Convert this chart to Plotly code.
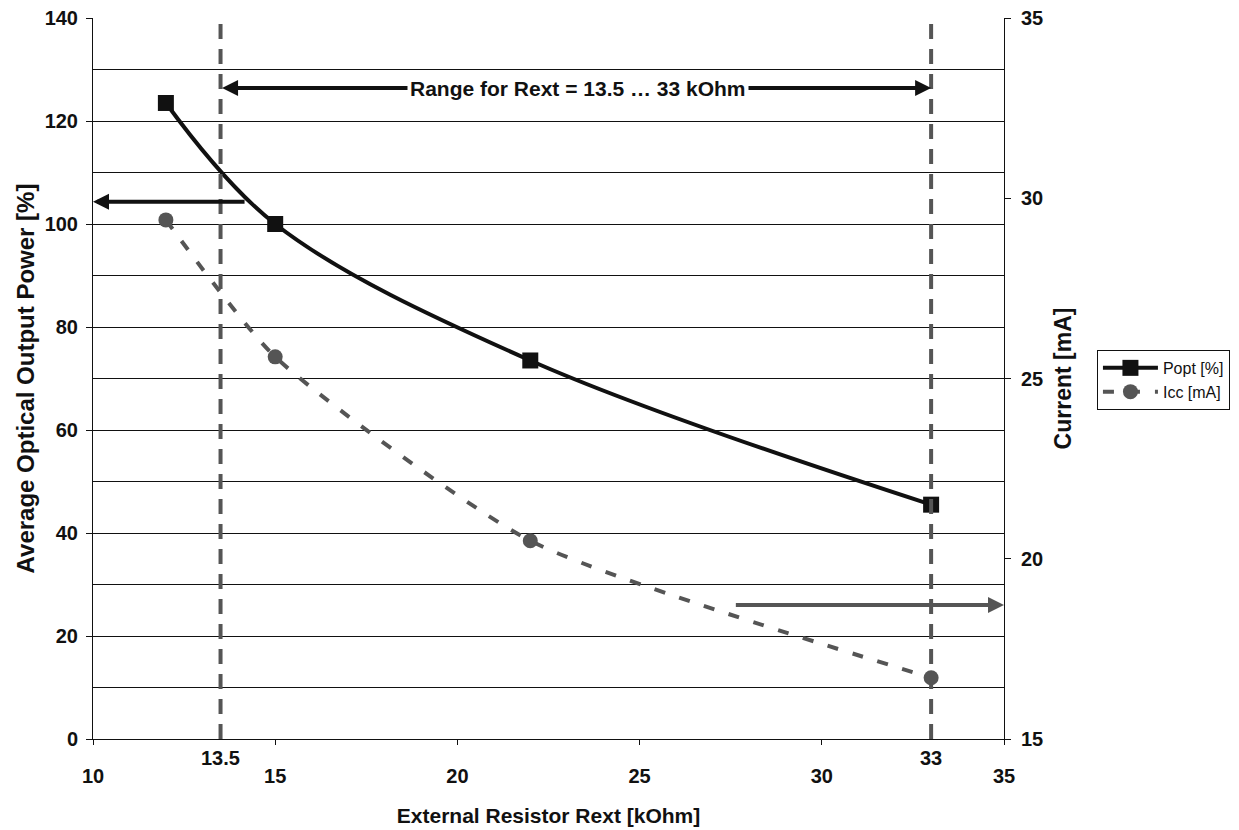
import plotly.graph_objects as go

rext = [12, 15, 22, 33]
popt = [123.5, 100, 73.5, 45.5]
icc = [29.4, 25.6, 20.5, 16.7]
range_lo = 13.5
range_hi = 33
x_ticks = [10, 15, 20, 25, 30, 35]
y_ticks = [0, 20, 40, 60, 80, 100, 120, 140]
y2_ticks = [15, 20, 25, 30, 35]

FONT = "Liberation Sans, Arial, sans-serif"
GRAY = "#555555"
INK = "#111111"
TICKFONT = dict(family=FONT, size=20, color=INK)


def bold(vals):
    return [f"<b>{v}</b>" for v in vals]


fig = go.Figure()
fig.add_trace(go.Scatter(
    x=rext, y=popt, name="Popt [%]", mode="lines+markers",
    line=dict(color=INK, width=4, shape="spline", smoothing=1.0),
    marker=dict(symbol="square", size=16, color=INK),
    yaxis="y"))
fig.add_trace(go.Scatter(
    x=rext, y=icc, name="Icc [mA]", mode="lines+markers",
    line=dict(color=GRAY, width=4, dash="11px,15px", shape="spline", smoothing=0.6),
    marker=dict(symbol="circle", size=15, color=GRAY),
    yaxis="y2"))

for xv in (range_lo, range_hi):
    fig.add_shape(type="line", xref="x", yref="paper", x0=xv, x1=xv, y0=0, y1=1,
                  line=dict(color=GRAY, width=4, dash="15px,10px"), layer="above")

# range arrow
fig.add_annotation(x=range_hi, y=126.4, ax=range_lo, ay=126.4, xref="x", yref="y",
                   axref="x", ayref="y", showarrow=True, arrowhead=2, startarrowhead=2,
                   arrowside="end+start", arrowwidth=4, arrowsize=0.8, startarrowsize=0.8,
                   arrowcolor=INK, text="")
fig.add_annotation(x=(range_lo + range_hi) / 2 + 0.05, y=126.4, xref="x", yref="y",
                   text="<b>Range for Rext = 13.5 … 33 kOhm</b>", showarrow=False,
                   bgcolor="white", borderpad=2, font=dict(family=FONT, size=21, color=INK))
# left arrow
fig.add_annotation(x=10, y=104.3, ax=14.2, ay=104.3, xref="x", yref="y",
                   axref="x", ayref="y", showarrow=True, arrowhead=2, arrowwidth=4,
                   arrowsize=0.8, arrowcolor=INK, text="")
# right arrow
fig.add_annotation(x=35, y=26, ax=27.6, ay=26, xref="x", yref="y",
                   axref="x", ayref="y", showarrow=True, arrowhead=2, arrowwidth=4,
                   arrowsize=0.8, arrowcolor=GRAY, text="")

for xv, lbl in ((range_lo, "13.5"), (range_hi, "33")):
    fig.add_annotation(x=xv, y=0, xref="x", yref="paper", yanchor="middle", yshift=-19,
                       text=f"<b>{lbl}</b>", showarrow=False, font=TICKFONT)

fig.update_layout(
    width=1231, height=822,
    margin=dict(l=85, r=235, t=10, b=91, autoexpand=False),
    plot_bgcolor="white", paper_bgcolor="white",
    font=dict(family=FONT, size=20, color=INK),
    showlegend=True,
    legend=dict(xref="container", yref="container", x=0.8846, y=0.584,
                xanchor="left", yanchor="top",
                bordercolor=INK, borderwidth=1, bgcolor="white",
                font=dict(family=FONT, size=16, color=INK),
                itemwidth=55, tracegroupgap=0),
    xaxis=dict(range=[10, 35], tickvals=x_ticks, ticktext=bold(x_ticks),
               showgrid=False, zeroline=False,
               showline=True, linecolor=INK, linewidth=1, automargin=False,
               ticks="outside", ticklen=5, tickcolor=INK, ticklabeloverflow="allow",
               tickfont=TICKFONT, ticklabelstandoff=14,
               title=dict(text="<b>External Resistor Rext [kOhm]</b>", standoff=22,
                          font=dict(family=FONT, size=21, color=INK))),
    yaxis=dict(range=[0, 140], tickvals=y_ticks, ticktext=bold(y_ticks),
               showgrid=True, gridcolor=INK, gridwidth=1,
               minor=dict(dtick=10, showgrid=True, gridcolor=INK, gridwidth=1),
               zeroline=False, showline=True, linecolor=INK, linewidth=1,
               automargin=False, ticklabeloverflow="allow",
               ticks="outside", ticklen=6, tickcolor=INK,
               tickfont=TICKFONT, ticklabelstandoff=4,
               title=dict(text="<b>Average Optical Output Power [%]</b>", standoff=3,
                          font=dict(family=FONT, size=24, color=INK))),
    yaxis2=dict(range=[15, 35], tickvals=y2_ticks, ticktext=bold(y2_ticks),
                overlaying="y", side="right", showgrid=False,
                zeroline=False, showline=True, linecolor=INK, linewidth=1,
                automargin=False, ticklabeloverflow="allow",
                ticks="outside", ticklen=6, tickcolor=INK,
                tickfont=TICKFONT, ticklabelstandoff=6,
                title=dict(text="<b>Current [mA]</b>", standoff=12,
                           font=dict(family=FONT, size=23, color=INK))),
)

fig.write_html("out.html")
